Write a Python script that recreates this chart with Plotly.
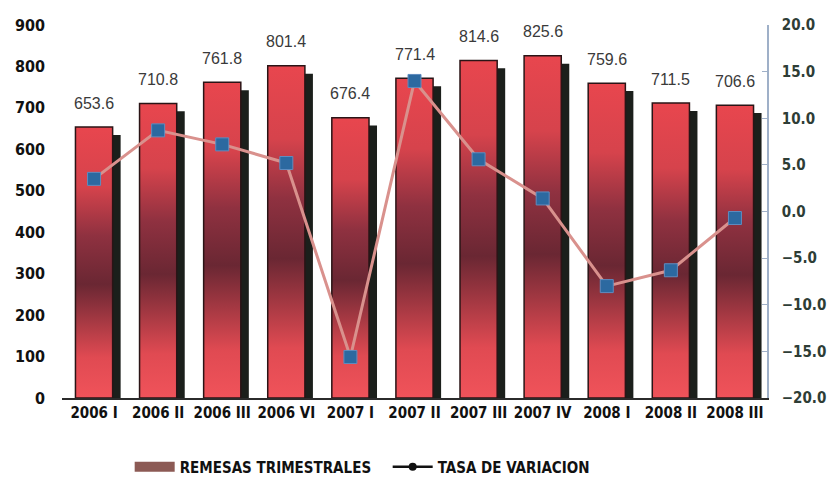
import plotly.graph_objects as go

categories = ["2006 I", "2006 II", "2006 III", "2006 VI", "2007 I", "2007 II",
              "2007 III", "2007 IV", "2008 I", "2008 II", "2008 III"]
remesas = [653.6, 710.8, 761.8, 801.4, 676.4, 771.4, 814.6, 825.6, 759.6, 711.5, 706.6]
tasa = [3.5, 8.7, 7.2, 5.2, -15.6, 14.0, 5.6, 1.4, -8.0, -6.3, -0.7]

FONT = "DejaVu Sans Condensed, Liberation Sans, sans-serif"
LFONT = "Liberation Sans, sans-serif"
BAR_W = 0.58
SHADOW_DX = 0.125
SHADOW_DY = 19

idx = list(range(len(categories)))
fig = go.Figure()

# shadows
fig.add_trace(go.Bar(
    x=idx, y=[v - SHADOW_DY for v in remesas], width=BAR_W,
    offset=-BAR_W / 2 + SHADOW_DX,
    marker=dict(color="#1b1f1b", line=dict(width=0)),
    showlegend=False, hoverinfo="skip"))

grad = [[0.0, "#f0535a"], [0.15, "#e04a52"], [0.42, "#6a2733"],
        [0.6, "#8f3140"], [0.78, "#d6434c"], [1.0, "#e8464e"]]
for i, v in zip(idx, remesas):
    fig.add_trace(go.Scatter(
        x=[i - BAR_W / 2, i + BAR_W / 2, i + BAR_W / 2, i - BAR_W / 2, i - BAR_W / 2],
        y=[0, 0, v, v, 0], mode="lines", fill="toself",
        fillgradient=dict(type="vertical", colorscale=grad),
        line=dict(color="#2a1416", width=1.5),
        showlegend=False, hoverinfo="skip"))

# growth line
fig.add_trace(go.Scatter(
    x=idx, y=tasa, yaxis="y2", mode="lines+markers",
    line=dict(color="#d9918d", width=3),
    marker=dict(symbol="square", size=13, color="#2c69a0",
                line=dict(color="#5f8cbf", width=1)),
    showlegend=False))

# legend entries
fig.add_trace(go.Scatter(x=[None], y=[None], mode="lines", name="REMESAS TRIMESTRALES",
                         line=dict(color="#8c5a55", width=12)))
fig.add_trace(go.Scatter(x=[None], y=[None], mode="lines+markers", name="TASA DE VARIACION",
                         line=dict(color="#111111", width=2.5),
                         marker=dict(symbol="circle", size=8, color="#111111")))

for i, v in zip(idx, remesas):
    fig.add_annotation(x=i, y=v, text=f"{v:.1f}", showarrow=False, yshift=24,
                       font=dict(family=LFONT, size=16, color="#3a3a3a"))

fig.update_layout(
    width=827, height=498, margin=dict(l=62, r=60, t=25, b=100, autoexpand=False),
    paper_bgcolor="white", plot_bgcolor="white",
    barmode="overlay",
    font=dict(family=FONT, color="#111111"),
    xaxis=dict(range=[-0.5, 10.5], tickvals=idx, ticktext=categories,
               showgrid=False, zeroline=False, showline=True, linecolor="#2b2b2b",
               linewidth=2, ticks="", ticklabelstandoff=0,
               tickfont=dict(family=FONT, size=15, color="#111111", weight="bold")),
    yaxis=dict(range=[0, 900], dtick=100, showgrid=False, zeroline=False,
               showline=False, ticks="", ticklabelstandoff=16,
               tickfont=dict(family=FONT, size=16, color="#111111", weight="bold")),
    yaxis2=dict(range=[-20, 20], dtick=5, overlaying="y", side="right",
                showgrid=False, zeroline=False, showline=True, linecolor="#9fb0c8",
                linewidth=1.5, ticks="inside", ticklen=5, tickcolor="#9fb0c8",
                tickformat=".1f", ticklabelstandoff=10,
                tickfont=dict(family=FONT, size=15, color="#2e3d36", weight="bold")),
    legend=dict(orientation="h", x=0.096, xanchor="left",
                yref="container", y=1 - 467 / 498, yanchor="middle",
                font=dict(family=FONT, size=15, color="#111111", weight="bold"),
                itemwidth=40, entrywidth=203, tracegroupgap=0),
)

fig.write_html("out.html")
